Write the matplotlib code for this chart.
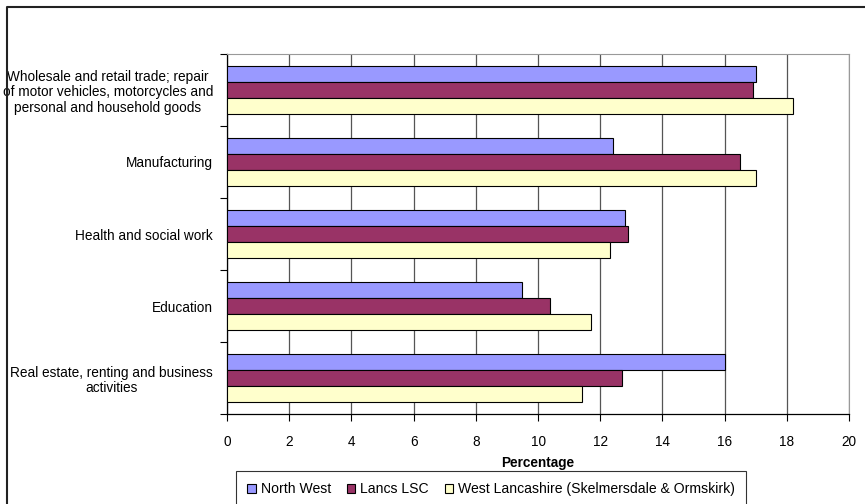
import matplotlib.pyplot as plt
import numpy as np
from matplotlib.lines import Line2D

plt.rcParams['font.family'] = ['Liberation Sans', 'DejaVu Sans']

categories = [
    "Wholesale and retail trade; repair\nof motor vehicles, motorcycles and\npersonal and household goods",
    "Manufacturing",
    "Health and social work",
    "Education",
    "Real estate, renting and business\nactivities",
]
north_west = [17.0, 12.4, 12.8, 9.5, 16.0]
lancs_lsc = [16.9, 16.5, 12.9, 10.4, 12.7]
west_lancs = [18.2, 17.0, 12.3, 11.7, 11.4]
series_names = ["North West", "Lancs LSC", "West Lancashire (Skelmersdale & Ormskirk)"]
colors = ["#9999FF", "#993366", "#FFFFCC"]

fs = 9.8

fig = plt.figure(figsize=(8.65, 5.04), dpi=100)
ax = fig.add_axes([227/865, 1-414/504, (849-227)/865, (414-54)/504])

y = np.arange(len(categories))
h = 16/72
for k, (vals, name, c) in enumerate(zip([north_west, lancs_lsc, west_lancs], series_names, colors)):
    ax.barh(y + (k-1)*h, vals, height=h, color=c, edgecolor='black', linewidth=0.8,
            label=name, zorder=3)

ax.set_xlim(0, 20)
ax.set_ylim(len(categories)-0.5, -0.5)
ax.set_xticks(np.arange(0, 21, 2))
ax.set_yticks(y)
ax.set_yticklabels(categories, ha='right', multialignment='center', linespacing=1.15)
ax.set_yticks(np.arange(-0.5, len(categories)), minor=True)
ax.tick_params(axis='y', which='major', length=0, pad=10, labelsize=fs)
ax.tick_params(axis='y', which='minor', length=5, width=0.8, direction='out')
ax.tick_params(axis='x', length=5, width=0.8, direction='out', labelsize=fs, pad=10)
ax.xaxis.grid(True, color='#555555', linewidth=0.9, zorder=0)
ax.set_xlabel("Percentage", fontsize=fs, fontweight='bold', labelpad=5)

for s in ['top', 'right']:
    ax.spines[s].set_color('#999999')
for s in ['left', 'bottom']:
    ax.spines[s].set_color('black')
    ax.spines[s].set_linewidth(0.9)

leg = fig.legend(loc='upper left', bbox_to_anchor=(236/865, 1-471/504), ncol=3,
                 fontsize=10.1, frameon=True, fancybox=False, edgecolor='black',
                 handlelength=0.6, handleheight=0.6, handletextpad=0.35,
                 columnspacing=1.15, borderpad=0.8, borderaxespad=0)
leg.get_frame().set_linewidth(0.8)

fig.add_artist(Line2D([7/865, 7/865, 1], [0, 1-7/504, 1-7/504],
                      transform=fig.transFigure, color='#222222', linewidth=1.5))

fig.savefig('out.png', dpi=100)
